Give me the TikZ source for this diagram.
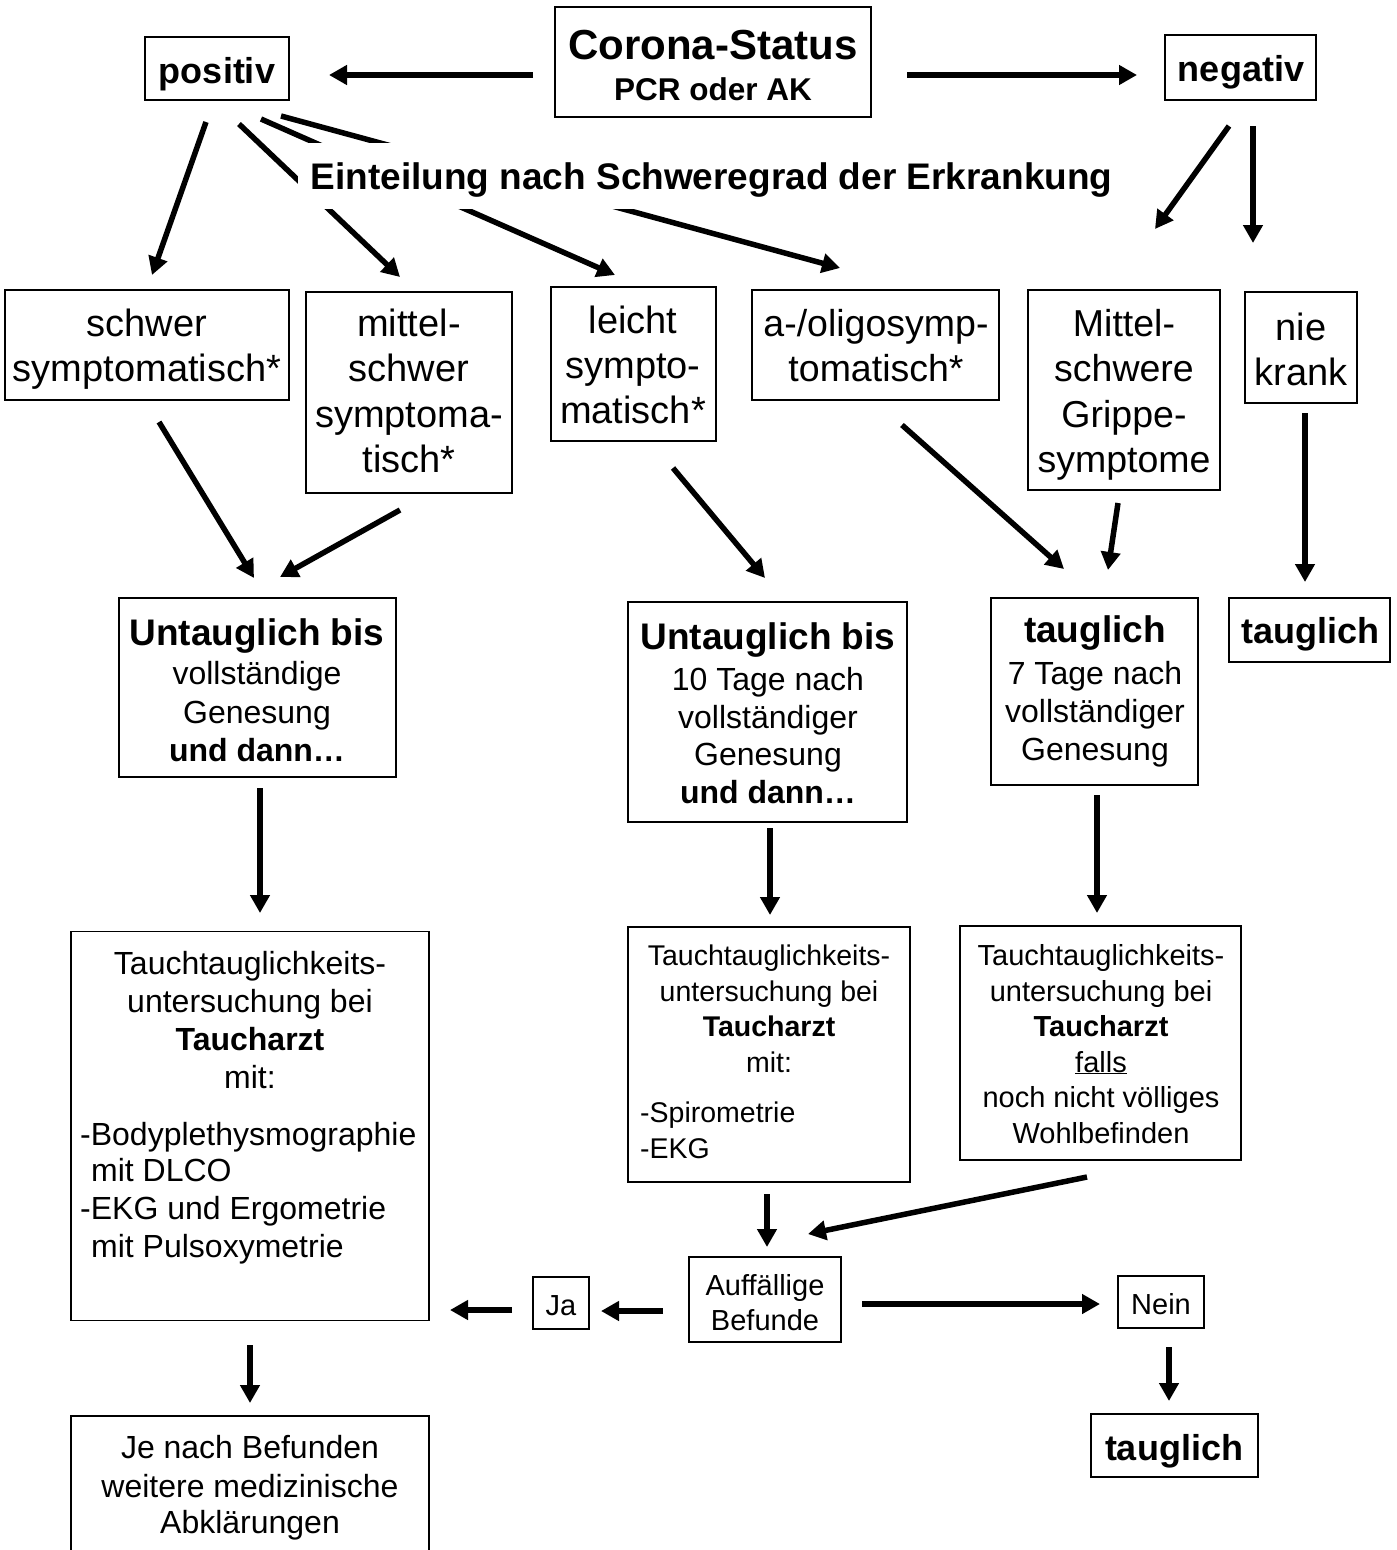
\documentclass[tikz,border=0pt]{standalone}
\usepackage{fontspec}
\setmainfont{Liberation Sans}
\usetikzlibrary{arrows.meta}
\newcommand\myfs[1]{\fontsize{#1}{#1}\selectfont}
\tikzset{
  box/.style={draw, line width=1.8pt, inner sep=0pt},
  tl/.style={anchor=base, inner sep=0pt},
  tll/.style={anchor=base west, inner sep=0pt},
  arr/.style={line width=5.5pt, -{Triangle[length=18pt,width=19pt]}},
  arrw/.style={line width=6.5pt, -{Triangle[length=18pt,width=19pt]}},
  rg/.style={font=\myfs{#1}},
  bd/.style={font=\bfseries\myfs{#1}},
}
\begin{document}
\begin{tikzpicture}[x=1pt,y=-1pt]
\useasboundingbox (0,0) rectangle (1397,1550);
\clip (0,0) rectangle (1397,1550);
\fill[white] (0,0) rectangle (1397,1550);

% ---------- boxes ----------
\node[box, minimum width=316pt, minimum height=110pt] (corona) at (713,62) {};
\node[box, minimum width=144pt, minimum height=63pt] (pos) at (217,68.5) {};
\node[box, minimum width=151pt, minimum height=65pt] (neg) at (1240.5,67.5) {};
\node[box, minimum width=284pt, minimum height=110pt] (schwer) at (147,345) {};
\node[box, minimum width=206pt, minimum height=201pt] (mittel) at (409,392.5) {};
\node[box, minimum width=165pt, minimum height=154pt] (leicht) at (633.5,364) {};
\node[box, minimum width=247pt, minimum height=110pt] (oligo) at (875.5,345) {};
\node[box, minimum width=192pt, minimum height=200pt] (grippe) at (1124,390) {};
\node[box, minimum width=112pt, minimum height=111pt] (nie) at (1301,347.5) {};
\node[box, minimum width=277pt, minimum height=179pt] (untL) at (257.5,687.5) {};
\node[box, minimum width=279pt, minimum height=220pt] (untM) at (767.5,712) {};
\node[box, minimum width=207pt, minimum height=187pt] (taug7) at (1094.5,691.5) {};
\node[box, minimum width=161pt, minimum height=64pt] (taugR) at (1309.5,630) {};
\node[box, minimum width=358pt, minimum height=389pt] (tauchL) at (250,1126) {};
\node[box, minimum width=282pt, minimum height=255pt] (tauchM) at (769,1054.5) {};
\node[box, minimum width=281pt, minimum height=234pt] (tauchR) at (1100.5,1043) {};
\node[box, minimum width=152pt, minimum height=85pt] (auff) at (765,1299.5) {};
\node[box, minimum width=56pt, minimum height=52pt] (ja) at (561,1303) {};
\node[box, minimum width=86pt, minimum height=52pt] (nein) at (1161,1302) {};
\node[box, minimum width=167pt, minimum height=63pt] (taugB) at (1174.5,1445.5) {};
\node[box, minimum width=358pt, minimum height=200pt] (je) at (250,1516) {};

% ---------- arrow end points ----------
\coordinate (a1s) at (533,75);   \coordinate (a1e) at (329,75);
\coordinate (a2s) at (907,75);   \coordinate (a2e) at (1137,75);
\coordinate (a3s) at (206,122);  \coordinate (a3e) at (152,275);
\coordinate (a4s) at (239,124);  \coordinate (a4e) at (400,277);
\coordinate (a5s) at (261,119);  \coordinate (a5e) at (615,275);
\coordinate (a6s) at (281,116);  \coordinate (a6e) at (840,268);
\coordinate (a7s) at (1229,126); \coordinate (a7e) at (1155,229);
\coordinate (a8s) at (1253,126); \coordinate (a8e) at (1253,243);
\coordinate (a9s) at (159,422);  \coordinate (a9e) at (254,578);
\coordinate (a10s) at (400,510); \coordinate (a10e) at (280,577);
\coordinate (a11s) at (673,468); \coordinate (a11e) at (765,578);
\coordinate (a12s) at (902,425); \coordinate (a12e) at (1064,569);
\coordinate (a13s) at (1118,503);\coordinate (a13e) at (1108,570);
\coordinate (a14s) at (1305,413);\coordinate (a14e) at (1305,582);
\coordinate (a15s) at (260,788); \coordinate (a15e) at (260,913);
\coordinate (a16s) at (770,828); \coordinate (a16e) at (770,915);
\coordinate (a17s) at (1097,795);\coordinate (a17e) at (1097,913);
\coordinate (a18s) at (767,1194);\coordinate (a18e) at (767,1247);
\coordinate (a19s) at (1087,1177);\coordinate (a19e) at (808,1234);
\coordinate (a20s) at (862,1304);\coordinate (a20e) at (1100,1304);
\coordinate (a21s) at (663,1311);\coordinate (a21e) at (601,1311);
\coordinate (a22s) at (512,1310);\coordinate (a22e) at (450,1310);
\coordinate (a23s) at (250,1345);\coordinate (a23e) at (250,1403);
\coordinate (a24s) at (1169,1347);\coordinate (a24e) at (1169,1401);

% ---------- arrows ----------
\draw[arrw] (a1s) -- (a1e);
\draw[arrw] (a2s) -- (a2e);
\draw[arr] (a3s) -- (a3e);
\draw[arr] (a4s) -- (a4e);
\draw[arr] (a5s) -- (a5e);
\draw[arr] (a6s) -- (a6e);
\draw[arr] (a7s) -- (a7e);
\draw[arr] (a8s) -- (a8e);
\draw[arr] (a9s) -- (a9e);
\draw[arr] (a10s) -- (a10e);
\draw[arr] (a11s) -- (a11e);
\draw[arr] (a12s) -- (a12e);
\draw[arr] (a13s) -- (a13e);
\draw[arr] (a14s) -- (a14e);
\draw[arr] (a15s) -- (a15e);
\draw[arr] (a16s) -- (a16e);
\draw[arr] (a17s) -- (a17e);
\draw[arr] (a18s) -- (a18e);
\draw[arr] (a19s) -- (a19e);
\draw[arrw] (a20s) -- (a20e);
\draw[arrw] (a21s) -- (a21e);
\draw[arrw] (a22s) -- (a22e);
\draw[arr] (a23s) -- (a23e);
\draw[arr] (a24s) -- (a24e);

% ---------- heading band ----------
\node[fill=white, inner sep=0pt, minimum width=827pt, minimum height=66pt,
      text height=27pt, text depth=1pt, bd=37] (eint) at (711.5,176)
      {Einteilung nach Schweregrad der Erkrankung};

% ---------- texts ----------
\node[tl, bd=42] (c1) at (713,59) {Corona-Status};
\node[tl, bd=31.5] (c2) at (713,100) {PCR oder AK};
\node[tl, bd=36] (p1) at (217,83) {positiv};
\node[tl, bd=36] (n1) at (1241,81) {negativ};

\node[tl, rg=38] (s1) at (147,336) {schwer};
\node[tl, rg=38] (s2) at (147,381) {symptomatisch*};

\node[tl, rg=38] (m1) at (409,336) {mittel-};
\node[tl, rg=38] (m2) at (409,381.5) {schwer};
\node[tl, rg=38] (m3) at (409,427) {symptoma-};
\node[tl, rg=38] (m4) at (409,472) {tisch*};

\node[tl, rg=38] (l1) at (633,333) {leicht};
\node[tl, rg=38] (l2) at (633,378) {sympto-};
\node[tl, rg=38] (l3) at (633,423) {matisch*};

\node[tl, rg=37.5] (o1) at (876,336) {a-/oligosymp-};
\node[tl, rg=37.5] (o2) at (876,381) {tomatisch*};

\node[tl, rg=37.5] (g1) at (1124,336) {Mittel-};
\node[tl, rg=37.5] (g2) at (1124,381) {schwere};
\node[tl, rg=37.5] (g3) at (1124,427) {Grippe-};
\node[tl, rg=37.5] (g4) at (1124,472) {symptome};

\node[tl, rg=38] (k1) at (1301,340) {nie};
\node[tl, rg=38] (k2) at (1301,385) {krank};

\node[tl, bd=37] (uL1) at (257,645) {Untauglich bis};
\node[tl, rg=32] (uL2) at (257,684) {vollständige};
\node[tl, rg=32] (uL3) at (257,723) {Genesung};
\node[tl, bd=32] (uL4) at (257,761) {und dann…};

\node[tl, bd=37] (uM1) at (768,649) {Untauglich bis};
\node[tl, rg=32] (uM2) at (768,690) {10 Tage nach};
\node[tl, rg=32] (uM3) at (768,728) {vollständiger};
\node[tl, rg=32] (uM4) at (768,765) {Genesung};
\node[tl, bd=32] (uM5) at (768,803) {und dann…};

\node[tl, bd=37] (t71) at (1095,642) {tauglich};
\node[tl, rg=32] (t72) at (1095,684) {7 Tage nach};
\node[tl, rg=32] (t73) at (1095,722) {vollständiger};
\node[tl, rg=32] (t74) at (1095,760) {Genesung};

\node[tl, bd=36] (tR1) at (1310,643) {tauglich};

\node[tl, rg=32] (tL1) at (250,974) {Tauchtauglichkeits-};
\node[tl, rg=32] (tL2) at (250,1012) {untersuchung bei};
\node[tl, bd=32] (tL3) at (250,1050) {Taucharzt};
\node[tl, rg=32] (tL4) at (250,1088) {mit:};
\node[tll, rg=32] (tL5) at (80,1145) {-Bodyplethysmographie};
\node[tll, rg=32] (tL6) at (91,1181) {mit DLCO};
\node[tll, rg=32] (tL7) at (80,1219) {-EKG und Ergometrie};
\node[tll, rg=32] (tL8) at (91,1257) {mit Pulsoxymetrie};

\node[tl, rg=28.5] (tM1) at (769,965) {Tauchtauglichkeits-};
\node[tl, rg=28.5] (tM2) at (769,1001) {untersuchung bei};
\node[tl, bd=28.5] (tM3) at (769,1036) {Taucharzt};
\node[tl, rg=28.5] (tM4) at (769,1072) {mit:};
\node[tll, rg=28.5] (tM5) at (640,1122) {-Spirometrie};
\node[tll, rg=28.5] (tM6) at (640,1158) {-EKG};

\node[tl, rg=29] (tRr1) at (1101,965) {Tauchtauglichkeits-};
\node[tl, rg=29] (tRr2) at (1101,1001) {untersuchung bei};
\node[tl, bd=29] (tRr3) at (1101,1036) {Taucharzt};
\node[tl, rg=29] (tRr4) at (1101,1072) {\underline{falls}};
\node[tl, rg=29] (tRr5) at (1101,1107) {noch nicht völliges};
\node[tl, rg=29] (tRr6) at (1101,1143) {Wohlbefinden};

\node[tl, rg=29] (af1) at (765,1295) {Auffällige};
\node[tl, rg=29] (af2) at (765,1330) {Befunde};
\node[tl, rg=29] (ja1) at (561,1315) {Ja};
\node[tl, rg=29] (ne1) at (1161,1314) {Nein};
\node[tl, bd=36] (tB1) at (1174,1460) {tauglich};

\node[tl, rg=32] (je1) at (250,1458) {Je nach Befunden};
\node[tl, rg=32] (je2) at (250,1497) {weitere medizinische};
\node[tl, rg=32] (je3) at (250,1533) {Abklärungen};
\end{tikzpicture}
\end{document}
